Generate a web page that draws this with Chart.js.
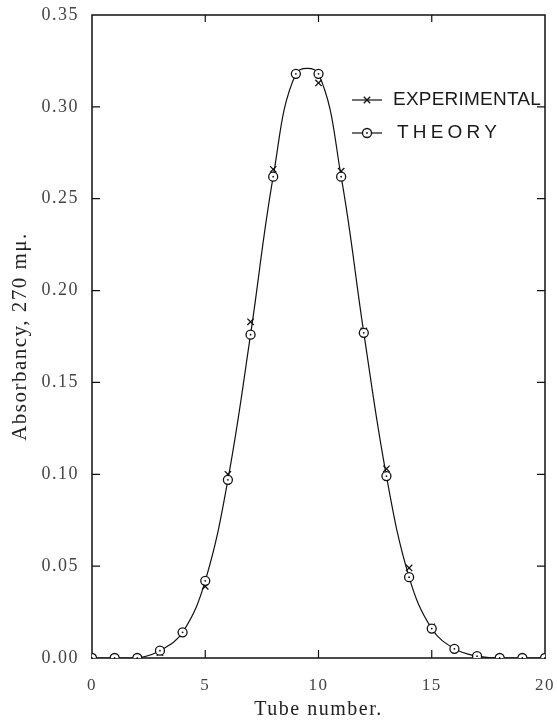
<!DOCTYPE html>
<html><head><meta charset="utf-8">
<script src="https://cdn.jsdelivr.net/npm/chart.js@4/dist/chart.umd.min.js"></script>
<style>html,body{margin:0;padding:0;background:#fff}#wrap{width:557px;height:723px;position:relative}</style>
</head><body><div id="wrap"><canvas id="c"></canvas></div>
<script>
// ---- data ----
const tubes        = [0,1,2,3,4,5,6,7,8,9,10,11,12,13,14,15,16,17,18,19,20];
const experimental = [0,0,0,0.003,0.014,0.039,0.100,0.183,0.266,0.318,0.313,0.265,0.178,0.103,0.049,0.017,0.005,0.001,0,0,0];
const theory       = [0,0,0,0.004,0.014,0.042,0.097,0.176,0.262,0.318,0.318,0.262,0.177,0.099,0.044,0.016,0.005,0.001,0,0,0];
const xTicks       = [0,5,10,15,20];
const yTicks       = [0,0.05,0.10,0.15,0.20,0.25,0.30,0.35];
const seriesNames  = ['EXPERIMENTAL','THEORY'];
const xTitle       = 'Tube number.';
const yTitle       = 'Absorbancy, 270 mμ.';

const toPts = arr => tubes.map((t,i)=>({x:t,y:arr[i]}));

const spacingPlugin = {
  id:'spacing',
  beforeDraw(chart){ chart.ctx.letterSpacing='1.5px'; },
  beforeDatasetsDraw(chart){ chart.ctx.letterSpacing='0px'; }
};

const framePlugin = {
  id:'frame',
  beforeDatasetsDraw(chart){
    const {ctx, chartArea:a, scales:{x,y}} = chart;
    ctx.save();
    ctx.strokeStyle='#111'; ctx.lineWidth=1.5;
    ctx.strokeRect(a.left,a.top,a.right-a.left,a.bottom-a.top);
    ctx.lineWidth=1.2;
    ctx.beginPath();
    xTicks.forEach(v=>{ if(v>x.min && v<x.max){ const px=x.getPixelForValue(v);
      ctx.moveTo(px,a.bottom); ctx.lineTo(px,a.bottom-8);
      ctx.moveTo(px,a.top); ctx.lineTo(px,a.top+7);} });
    yTicks.forEach(v=>{ if(v>y.min+1e-9 && v<y.max-1e-9){ const py=y.getPixelForValue(v);
      ctx.moveTo(a.left,py); ctx.lineTo(a.left+8,py);
      ctx.moveTo(a.right,py); ctx.lineTo(a.right-8,py);} });
    ctx.stroke(); ctx.restore();
  },
  afterDatasetsDraw(chart){
    const {ctx} = chart;
    const meta = chart.getDatasetMeta(0);
    ctx.save(); ctx.fillStyle='#111';
    meta.data.forEach(p=>{ ctx.beginPath(); ctx.arc(p.x,p.y,0.9,0,Math.PI*2); ctx.fill(); });
    ctx.restore();
  }
};

const legendPlugin = {
  id:'customLegend',
  afterDraw(chart){
    const {ctx} = chart;
    const rows = [
      {label:seriesNames[0], style:'crossRot', y:100, tx:393, target:148},
      {label:seriesNames[1], style:'circle',  y:133, tx:397, target:104}
    ];
    ctx.save();
    rows.forEach(r=>{
      ctx.strokeStyle='#111'; ctx.lineWidth=1.2;
      ctx.beginPath(); ctx.moveTo(352,r.y); ctx.lineTo(382,r.y); ctx.stroke();
      ctx.fillStyle='#fff'; ctx.lineWidth=1.3;
      Chart.helpers.drawPoint(ctx,{pointStyle:r.style,radius:4.5,borderWidth:1.3,rotation:0},367,r.y);
      if(r.style==='circle'){ ctx.fillStyle='#111'; ctx.beginPath(); ctx.arc(367,r.y,0.9,0,Math.PI*2); ctx.fill(); }
      ctx.font='19px "Liberation Sans", Arial, sans-serif';
      ctx.letterSpacing='0px';
      const w0 = ctx.measureText(r.label).width;
      const sp = (r.target-w0)/r.label.length;
      ctx.letterSpacing = sp.toFixed(2)+'px';
      ctx.fillStyle='#1a1a1a'; ctx.textBaseline='middle'; ctx.textAlign='left';
      ctx.fillText(r.label,r.tx,r.y);
    });
    ctx.restore();
  }
};

new Chart(document.getElementById('c'),{
  type:'scatter',
  data:{datasets:[
    {label:seriesNames[1], data:toPts(theory), showLine:true, tension:0.4,
     borderColor:'#111', borderWidth:1.2, pointStyle:'circle', pointRadius:4.5,
     pointBackgroundColor:'#fff', pointBorderColor:'#111', pointBorderWidth:1.3},
    {label:seriesNames[0], data:toPts(experimental), showLine:false,
     pointStyle:'crossRot', pointRadius:4.5, pointBorderColor:'#111',
     pointBackgroundColor:'#111', pointBorderWidth:1.3}
  ]},
  options:{
    responsive:true, maintainAspectRatio:false, animation:false,
    layout:{padding:{top:15,right:12,left:0,bottom:0}},
    plugins:{legend:{display:false}, tooltip:{enabled:false}},
    scales:{
      x:{type:'linear', min:0, max:20,
         afterFit(s){s.height=65; s.paddingLeft=0; s.paddingRight=0;},
         afterBuildTicks(s){s.ticks=xTicks.map(v=>({value:v}));},
         grid:{display:false, drawTicks:false}, border:{display:false},
         ticks:{padding:17, color:'#444', font:{family:'"Liberation Serif", serif', size:17},
                callback:v=>String(v)},
         title:{display:true, text:xTitle, color:'#222', padding:{top:0,bottom:1},
                font:{family:'"Liberation Serif", serif', size:20}}},
      y:{type:'linear', min:0, max:0.35,
         afterFit(s){s.width=92; s.paddingTop=0; s.paddingBottom=0;},
         afterBuildTicks(s){s.ticks=yTicks.map(v=>({value:v}));},
         grid:{display:false, drawTicks:false}, border:{display:false},
         ticks:{padding:13, color:'#444', font:{family:'"Liberation Serif", serif', size:18},
                callback:v=>Number(v).toFixed(2)},
         title:{display:true, text:yTitle, color:'#222', padding:{top:8,bottom:0},
                font:{family:'"Liberation Serif", serif', size:21}}}
    }
  },
  plugins:[spacingPlugin, framePlugin, legendPlugin]
});
</script></body></html>
